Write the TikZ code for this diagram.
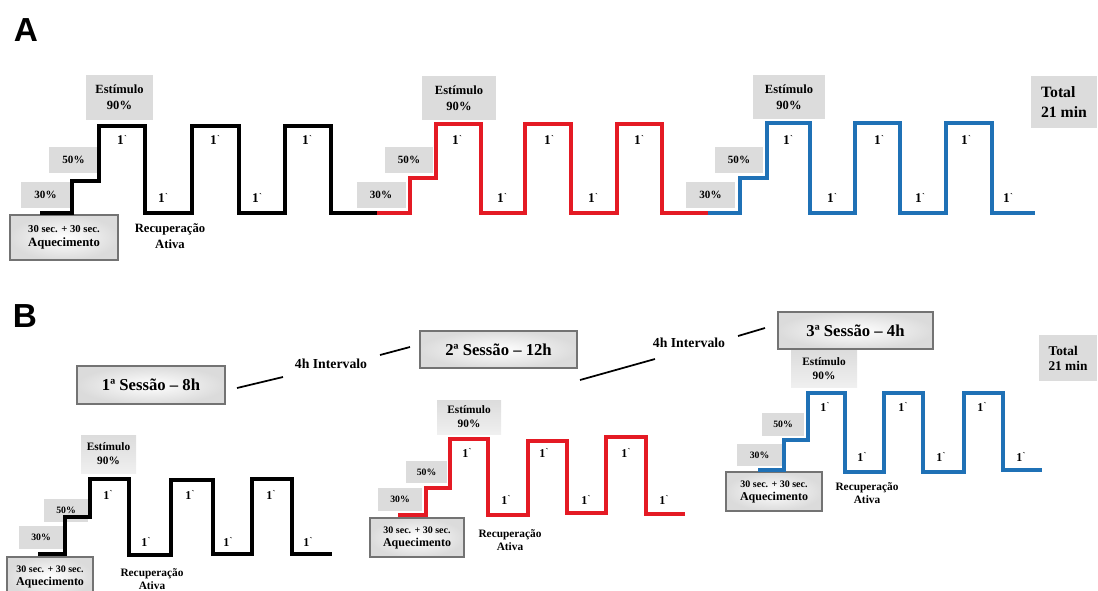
\documentclass[tikz,border=0pt]{standalone}
\usepackage{fontspec}
\setmainfont{Liberation Serif}
\newfontfamily\panelfont{Liberation Sans}
\usepackage{xcolor}
\definecolor{wavered}{RGB}{228,26,36}
\definecolor{waveblue}{RGB}{31,113,182}
\definecolor{boxgray}{RGB}{220,220,220}
\newcommand{\tick}{1\kern0.2pt\raisebox{0.25em}{\fontsize{6.5}{6.5}\selectfont\textasciigrave}}

\begin{document}
\begin{tikzpicture}[
    x=0.75pt, y=-0.75pt,
    nosep/.style={inner sep=0},
    wh/.style 2 args={minimum width=#1*0.75pt, minimum height=#2*0.75pt},
    panel/.style={font=\panelfont\bfseries\fontsize{25}{25}\selectfont},
    wavea/.style={line width=2.9pt, line join=miter},
    waveb/.style={line width=2.3pt, line join=miter},
    pct/.style={nosep, fill=boxgray, align=center},
    warm/.style={nosep, draw=black!55, line width=0.9pt, inner color=white, outer color=black!14, align=center},
    pcta/.style={pct, font=\bfseries\fontsize{8.3}{10}\selectfont},
    pctb/.style={pct, font=\bfseries\fontsize{7.3}{9}\selectfont},
    stima/.style={pct, font=\bfseries\fontsize{9.4}{12}\selectfont},
    stimb/.style={pct, top color=boxgray, bottom color=black!6, font=\bfseries\fontsize{8.5}{10.5}\selectfont},
    warma/.style={warm, font=\bfseries\fontsize{9.5}{10.5}\selectfont},
    warmb/.style={warm, font=\bfseries\fontsize{9}{9.75}\selectfont},
    reca/.style={align=center, nosep, font=\bfseries\fontsize{9.5}{12}\selectfont},
    recb/.style={align=center, nosep, font=\bfseries\fontsize{8.5}{9.4}\selectfont},
    ticka/.style={nosep, font=\bfseries\fontsize{10}{10}\selectfont},
    tickb/.style={nosep, font=\bfseries\fontsize{9}{9}\selectfont},
    tota/.style={pct, align=left, font=\bfseries\fontsize{11.8}{15}\selectfont},
    totb/.style={pct, align=left, font=\bfseries\fontsize{10}{11.25}\selectfont},
    sess/.style={warm, font=\bfseries\fontsize{12.5}{14}\selectfont},
    gap/.style={nosep, font=\bfseries\fontsize{10.3}{12}\selectfont},
    gapline/.style={line width=1.3pt}]
\useasboundingbox (0,0) rectangle (1098,590);

\node[panel] (lblA) at (26,30) {A};
\node[panel] (lblB) at (25,316) {B};

\node[stima, wh={67}{45}] (a1-est) at (119.5,97.5) {Estímulo\\90\%};
\node[pcta, wh={49}{26}] (a1-50) at (73.5,160) {50\%};
\node[pcta, wh={49}{26}] (a1-30) at (45.5,195) {30\%};
\node[warma, wh={108}{45}] (a1-aq) at (64,237.5) {{\fontsize{8}{10.5}\selectfont 30 sec. + 30 sec.}\\Aquecimento};
\node[reca] (a1-rec) at (170,236) {Recuperação\\Ativa};
\node[stima, wh={74}{44}] (a2-est) at (459,98) {Estímulo\\90\%};
\node[pcta, wh={48}{26}] (a2-50) at (409,160) {50\%};
\node[pcta, wh={49}{26}] (a2-30) at (381,195) {30\%};
\node[stima, wh={72}{44}] (a3-est) at (789,97) {Estímulo\\90\%};
\node[pcta, wh={48}{26}] (a3-50) at (739,160) {50\%};
\node[pcta, wh={49}{26}] (a3-30) at (710.5,195) {30\%};
\node[tota, wh={66}{52}] (a-tot) at (1064,102) {Total\\21 min};

\draw[wavea] (40,213) -| (72,181) -| (99,126) -| (145,213) -| (192,126) -| (239,213) -| (285,126) -| (331,213) -- (377,213);
\draw[wavea, wavered] (377,213) -| (410,178) -| (436,124) -| (481,213) -| (525,124) -| (571,213) -| (617,124) -| (662,213) -- (708,213);
\draw[wavea, waveblue] (708,213) -| (740,178) -| (767,123) -| (810,213) -| (855,123) -| (900,213) -| (946,123) -| (992,213) -- (1035,213);

\node[ticka] (a1-t1) at (122,140) {\tick};
\node[ticka] (a1-t2) at (215,140) {\tick};
\node[ticka] (a1-t3) at (307,140) {\tick};
\node[ticka] (a1-b1) at (163,198) {\tick};
\node[ticka] (a1-b2) at (257,198) {\tick};
\node[ticka] (a2-t1) at (457,140) {\tick};
\node[ticka] (a2-t2) at (549,140) {\tick};
\node[ticka] (a2-t3) at (639,140) {\tick};
\node[ticka] (a2-b1) at (502,198) {\tick};
\node[ticka] (a2-b2) at (593,198) {\tick};
\node[ticka] (a3-t1) at (788,140) {\tick};
\node[ticka] (a3-t2) at (879,140) {\tick};
\node[ticka] (a3-t3) at (966,140) {\tick};
\node[ticka] (a3-b1) at (832,198) {\tick};
\node[ticka] (a3-b2) at (920,198) {\tick};
\node[ticka] (a3-b3) at (1008,198) {\tick};

\node[sess, wh={148}{38}] (b-s1) at (151,385) {1ª Sessão – 8h};
\node[sess, wh={157}{37}] (b-s2) at (498.5,349.5) {2ª Sessão – 12h};
\node[sess, wh={155}{37}] (b-s3) at (855.5,330.5) {3ª Sessão – 4h};
\node[gap] (b-i1) at (331,364) {4h Intervalo};
\node[gap] (b-i2) at (689,343) {4h Intervalo};
\coordinate (g1a) at (237,388); \coordinate (g1b) at (283,377);
\coordinate (g2a) at (380,355); \coordinate (g2b) at (410,347);
\coordinate (g3a) at (580,380); \coordinate (g3b) at (655,359);
\coordinate (g4a) at (738,336); \coordinate (g4b) at (765,328);
\draw[gapline] (g1a) -- (g1b);
\draw[gapline] (g2a) -- (g2b);
\draw[gapline] (g3a) -- (g3b);
\draw[gapline] (g4a) -- (g4b);

\node[stimb, wh={55}{38}] (b1-est) at (108.5,454) {Estímulo\\90\%};
\node[pctb, wh={44}{23}] (b1-50) at (66,510.5) {50\%};
\node[pctb, wh={44}{23}] (b1-30) at (41,537.5) {30\%};
\node[warmb, wh={86}{39}] (b1-aq) at (50,576.5) {{\fontsize{7.5}{9.75}\selectfont 30 sec. + 30 sec.}\\Aquecimento};
\node[recb] (b1-rec) at (152,579) {Recuperação\\Ativa};
\node[stimb, wh={64}{34}] (b2-est) at (469,417) {Estímulo\\90\%};
\node[pctb, wh={41}{22}] (b2-50) at (426.5,472) {50\%};
\node[pctb, wh={44}{23}] (b2-30) at (400,499.5) {30\%};
\node[warmb, wh={94}{39}] (b2-aq) at (417,537.5) {{\fontsize{7.5}{9.75}\selectfont 30 sec. + 30 sec.}\\Aquecimento};
\node[recb] (b2-rec) at (510,540) {Recuperação\\Ativa};
\node[stimb, wh={66}{37}] (b3-est) at (824,368.5) {Estímulo\\90\%};
\node[pctb, wh={42}{23}] (b3-50) at (783,424.5) {50\%};
\node[pctb, wh={45}{22}] (b3-30) at (759.5,455) {30\%};
\node[warmb, wh={96}{39}] (b3-aq) at (774,491.5) {{\fontsize{7.5}{9.75}\selectfont 30 sec. + 30 sec.}\\Aquecimento};
\node[recb] (b3-rec) at (867,493) {Recuperação\\Ativa};
\node[totb, wh={58}{46}] (b-tot) at (1068,358) {Total\\21 min};

\draw[waveb] (38,554) -| (65,517) -| (90,479) -| (129,555) -| (171,480) -| (213,554) -| (252,479) -| (292,554) -- (332,554);
\draw[waveb, wavered] (398,515) -| (426,488) -| (450,439) -| (488,515) -| (528,441) -| (567,513) -| (606,437) -| (646,514) -- (685,514);
\draw[waveb, waveblue] (758,470) -| (784,440) -| (808,393) -| (845,472) -| (884,393) -| (923,472) -| (964,393) -| (1003,470) -- (1042,470);

\node[tickb] (b1-t1) at (108,495) {\tick};
\node[tickb] (b1-t2) at (190,495) {\tick};
\node[tickb] (b1-t3) at (271,495) {\tick};
\node[tickb] (b1-b1) at (146,542) {\tick};
\node[tickb] (b1-b2) at (228,542) {\tick};
\node[tickb] (b1-b3) at (308,542) {\tick};
\node[tickb] (b2-t1) at (467,453) {\tick};
\node[tickb] (b2-t2) at (544,453) {\tick};
\node[tickb] (b2-t3) at (626,453) {\tick};
\node[tickb] (b2-b1) at (506,500) {\tick};
\node[tickb] (b2-b2) at (586,500) {\tick};
\node[tickb] (b2-b3) at (664,500) {\tick};
\node[tickb] (b3-t1) at (825,407) {\tick};
\node[tickb] (b3-t2) at (903,407) {\tick};
\node[tickb] (b3-t3) at (982,407) {\tick};
\node[tickb] (b3-b1) at (862,457) {\tick};
\node[tickb] (b3-b2) at (941,457) {\tick};
\node[tickb] (b3-b3) at (1021,457) {\tick};

\end{tikzpicture}
\end{document}
